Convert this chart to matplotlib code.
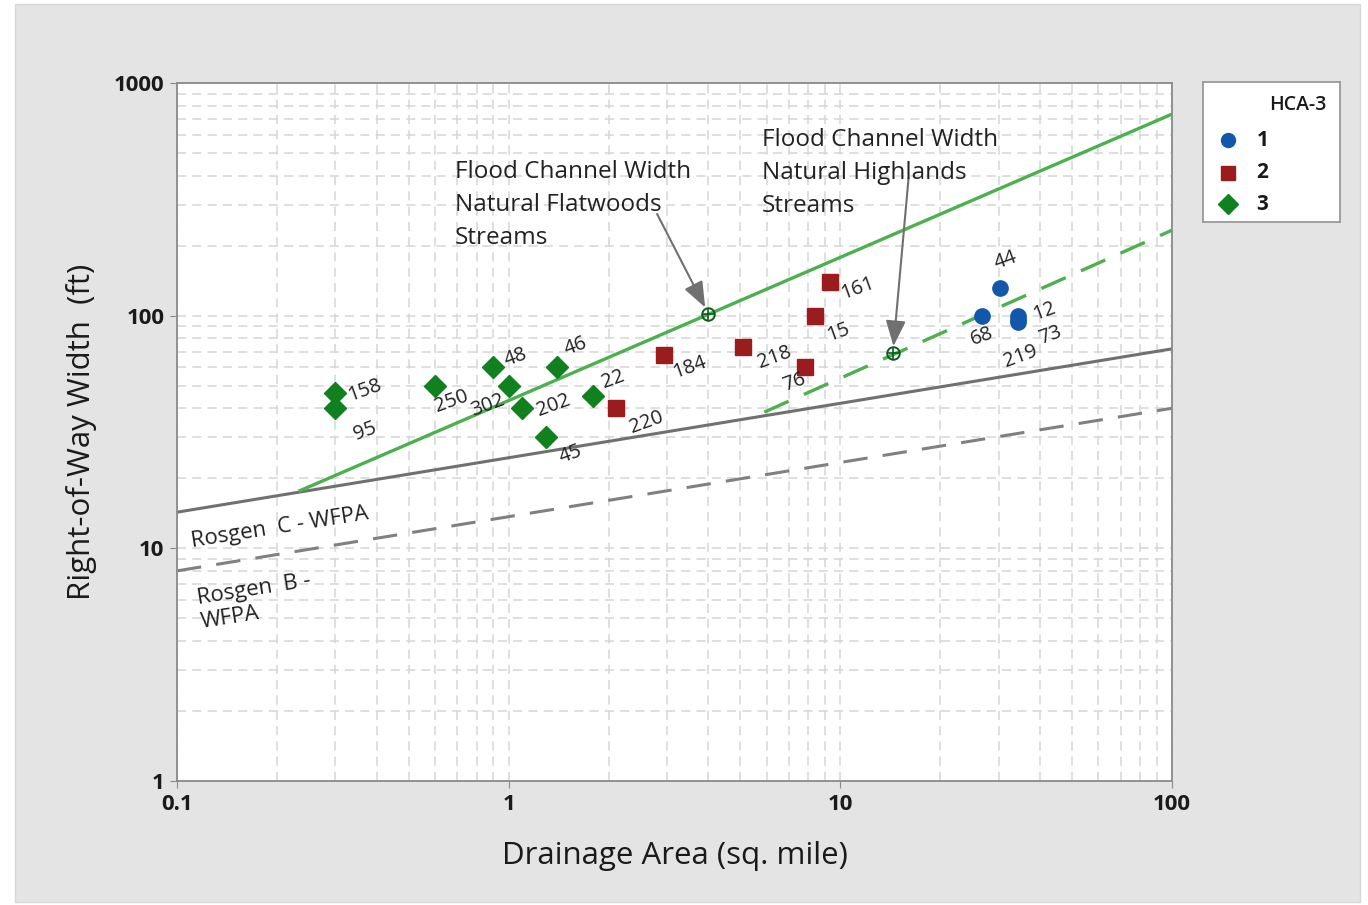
import numpy as np
import matplotlib.pyplot as plt
from matplotlib.patches import Rectangle

plt.rcParams['font.family'] = ['Open Sans', 'DejaVu Sans']

# HCA-3 group 1
area_1 = [30.3, 26.7, 34.3, 34.3, 34.3]
width_1 = [131, 100, 100, 94, 96]
labels_1 = ['44', '68', '12', '73', '219']

# HCA-3 group 2
area_2 = [2.1, 2.95, 5.1, 7.8, 8.4, 9.3]
width_2 = [40, 68, 73, 60, 100, 139]
labels_2 = ['220', '184', '218', '76', '15', '161']

# HCA-3 group 3
area_3 = [0.3, 0.3, 0.6, 0.9, 1.0, 1.1, 1.4, 1.3, 1.8]
width_3 = [46.5, 40, 50, 60, 50, 40, 60, 30, 45]
labels_3 = ['158', '95', '250', '48', '302', '202', '46', '45', '22']

# reference curves
flat_x = [0.235, 100]
flat_y = [17.7, 735]
high_x = [5.9, 100]
high_y = [38.5, 233]
rosc_x = [0.1, 100]
rosc_y = [14.3, 72]
rosb_x = [0.1, 100]
rosb_y = [8.0, 40]
flat_pt = (4.0, 102)
high_pt = (14.4, 69)

# label offsets (points) for point labels
offsets = {
    '44': (4, 20, 'center'), '68': (0, -15, 'center'), '12': (9, 3, 'left'),
    '73': (13, -10, 'left'), '219': (2, -26, 'center'),
    '220': (8, -10, 'left'), '184': (4, -9, 'left'), '218': (8, -7, 'left'),
    '76': (3, -11, 'right'), '15': (6, -12, 'left'), '161': (6, -4, 'left'),
    '158': (7, 2, 'left'), '95': (11, -17, 'left'), '250': (-2, -11, 'left'),
    '48': (6, 7, 'left'), '302': (-1, -14, 'right'), '202': (8, 2, 'left'),
    '46': (3, 15, 'left'), '45': (7, -12, 'left'), '22': (4, 12, 'left'),
}

fig = plt.figure(figsize=(13.68, 9.05), dpi=100, facecolor='white')
fig.patches.append(Rectangle((15 / 1368, 3 / 905), 1345 / 1368, 898 / 905,
                             transform=fig.transFigure, facecolor='#e4e4e4',
                             edgecolor='#d8d8d8', zorder=-10))
ax = fig.add_axes([177 / 1368, 1 - 781 / 905, 995 / 1368, 698 / 905])
ax.set_facecolor('white')
ax.set_xscale('log')
ax.set_yscale('log')
ax.set_xlim(0.1, 100)
ax.set_ylim(1, 1000)

ax.grid(True, which='both', color='#d6d6d6', linestyle=(0, (6, 4)), linewidth=1.1)
ax.set_axisbelow(True)
for s in ax.spines.values():
    s.set_color('#8a8a8a')
    s.set_linewidth(1.3)

ax.set_xticks([0.1, 1, 10, 100])
ax.set_xticklabels(['0.1', '1', '10', '100'])
ax.set_yticks([1, 10, 100, 1000])
ax.set_yticklabels(['1', '10', '100', '1000'])
ax.tick_params(which='major', length=5, color='#8a8a8a', labelsize=16, labelcolor='#1a1a1a', pad=4)
ax.tick_params(which='minor', length=0)
for lab in ax.get_xticklabels() + ax.get_yticklabels():
    lab.set_fontweight('bold')

ax.set_xlabel('Drainage Area (sq. mile)', fontsize=22.5, color='#1a1a1a', labelpad=19)
ax.set_ylabel('Right-of-Way Width  (ft)', fontsize=22.5, color='#1a1a1a', labelpad=12)

# lines
ax.plot(rosc_x, rosc_y, color='#707070', lw=2.2, zorder=2)
ax.plot(rosb_x, rosb_y, color='#808080', lw=2.2, ls=(0, (8, 5)), zorder=2)
ax.plot(flat_x, flat_y, color='#4cb050', lw=2.4, zorder=2)
ax.plot(high_x, high_y, color='#4cb050', lw=2.4, ls=(0, (8, 5)), zorder=2)

# target markers
for px, py in [flat_pt, high_pt]:
    ax.plot(px, py, 'o', ms=9, mfc='none', mec='#0d5a1a', mew=1.4, zorder=5)
    ax.plot(px, py, '+', ms=8, mec='#0d5a1a', mew=1.2, zorder=5)

# points
ax.plot(area_1, width_1, 'o', ms=11, color='#1257ac', ls='none', zorder=4)
ax.plot(area_2, width_2, 's', ms=12, color='#9b1c1c', ls='none', zorder=4)
ax.plot(area_3, width_3, 'D', ms=11, color='#11801f', ls='none', zorder=4)

for xs, ys, ls in [(area_1, width_1, labels_1), (area_2, width_2, labels_2), (area_3, width_3, labels_3)]:
    for x, y, l in zip(xs, ys, ls):
        dx, dy, ha = offsets[l]
        ax.annotate(l, (x, y), xytext=(dx, dy), textcoords='offset points',
                    ha=ha, va='center', rotation=20, fontsize=14.5, color='#222222', zorder=6)

# line labels
ax.text(0.109, 12.3, 'Rosgen  C - WFPA', rotation=9, fontsize=16, color='#222222', ha='left', va='center')
ax.text(0.114, 5.9, 'Rosgen  B -\nWFPA', rotation=9, fontsize=16, color='#222222',
        ha='left', va='center', linespacing=1.15)

ax.annotate('Flood Channel Width\nNatural Flatwoods\nStreams', xy=flat_pt, xytext=(0.69, 299),
            fontsize=17.5, color='#222222', ha='left', va='center', linespacing=1.5,
            arrowprops=dict(arrowstyle='-|>,head_length=0.9,head_width=0.35', color='#707070',
                            lw=1.5, shrinkA=0, shrinkB=5, patchA=None, relpos=(0.855, 0.4)))
ax.annotate('Flood Channel Width\nNatural Highlands\nStreams', xy=high_pt, xytext=(5.81, 410),
            fontsize=17.5, color='#222222', ha='left', va='center', linespacing=1.5,
            arrowprops=dict(arrowstyle='-|>,head_length=0.9,head_width=0.35', color='#707070',
                            lw=1.5, shrinkA=0, shrinkB=5, patchA=None, relpos=(0.62, 0.44)))

# legend panel
lax = fig.add_axes([1203 / 1368, 1 - 222 / 905, 137 / 1368, 140 / 905])
lax.set_xlim(0, 1)
lax.set_ylim(0, 1)
lax.set_xticks([])
lax.set_yticks([])
lax.set_facecolor('white')
for s in lax.spines.values():
    s.set_color('#999999')
    s.set_linewidth(1.3)
lax.text(0.9, 0.835, 'HCA-3', ha='right', va='center', fontsize=14, fontweight='semibold', color='#1a1a1a')
for yy, mk, col, txt in [(0.585, 'o', '#1257ac', '1'), (0.35, 's', '#9b1c1c', '2'), (0.125, 'D', '#11801f', '3')]:
    lax.plot(0.18, yy, mk, ms=10, color=col)
    lax.text(0.39, yy, txt, ha='left', va='center', fontsize=15, fontweight='bold', color='#1a1a1a')

fig.savefig('out.png', dpi=100, facecolor=fig.get_facecolor())
